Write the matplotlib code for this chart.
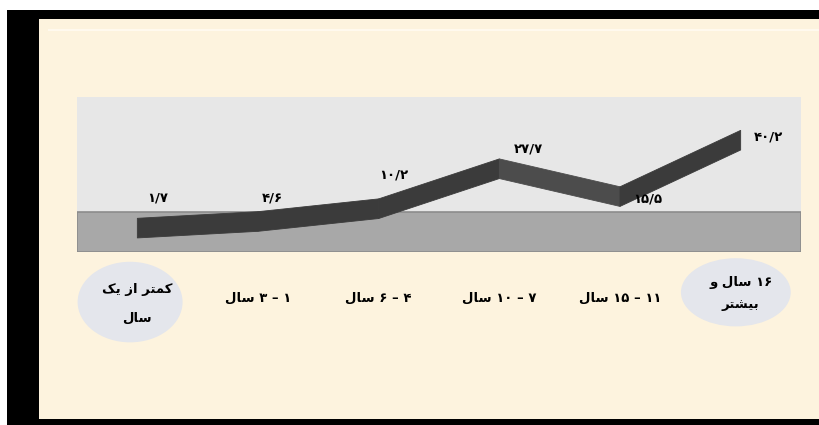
import re
import matplotlib
matplotlib.use("Agg")
import matplotlib.pyplot as plt
from matplotlib.patches import Rectangle, Ellipse, Polygon

# Age groups and share (%)
categories = ["کمتر از یک\nسال", "۱ – ۳ سال", "۴ – ۶ سال", "۷ – ۱۰ سال", "۱۱ – ۱۵ سال", "۱۶ سال و\nبیشتر"]
values = [1.7, 4.6, 10.2, 27.7, 15.5, 40.2]

# Arabic presentation forms: isolated, final, initial, medial
FORMS = {
    "ا": ("\uFE8D", "\uFE8E", None, None),
    "ب": ("\uFE8F", "\uFE90", "\uFE91", "\uFE92"),
    "ت": ("\uFE95", "\uFE96", "\uFE97", "\uFE98"),
    "ر": ("\uFEAD", "\uFEAE", None, None),
    "ز": ("\uFEAF", "\uFEB0", None, None),
    "س": ("\uFEB1", "\uFEB2", "\uFEB3", "\uFEB4"),
    "ش": ("\uFEB5", "\uFEB6", "\uFEB7", "\uFEB8"),
    "ل": ("\uFEDD", "\uFEDE", "\uFEDF", "\uFEE0"),
    "م": ("\uFEE1", "\uFEE2", "\uFEE3", "\uFEE4"),
    "و": ("\uFEED", "\uFEEE", None, None),
    "ک": ("\uFB8E", "\uFB8F", "\uFB90", "\uFB91"),
    "ی": ("\uFBFC", "\uFBFD", "\uFBFE", "\uFBFF"),
}
FA_DIGITS = str.maketrans("0123456789.", "۰۱۲۳۴۵۶۷۸۹/")


def shape(text):
    out = []
    for i, c in enumerate(text):
        if c not in FORMS:
            out.append(c)
            continue
        prev = text[i - 1] if i > 0 else ""
        nxt = text[i + 1] if i + 1 < len(text) else ""
        join_prev = prev in FORMS and FORMS[prev][2] is not None
        join_next = nxt in FORMS and FORMS[c][2] is not None
        iso, fin, ini, med = FORMS[c]
        if join_prev and join_next:
            out.append(med)
        elif join_prev:
            out.append(fin)
        elif join_next:
            out.append(ini)
        else:
            out.append(iso)
    return "".join(out)


def rtl(text):
    # shape, then lay out right-to-left keeping number runs in order
    lines = []
    for line in text.split("\n"):
        rev = shape(line)[::-1]
        rev = re.sub(r"[۰-۹/]+", lambda m: m.group()[::-1], rev)
        lines.append(rev)
    return "\n".join(lines)


plt.rcParams["font.family"] = ["DejaVu Sans"]

fig = plt.figure(figsize=(8.2, 4.25), dpi=100, facecolor="white")

# slide frame
fig.patches.append(Rectangle((7 / 820, 0), 1, 415 / 425, transform=fig.transFigure,
                             facecolor="black", edgecolor="none", zorder=0))
fig.patches.append(Rectangle((39 / 820, 6 / 425), 1, 400 / 425, transform=fig.transFigure,
                             facecolor="#FDF3DE", edgecolor="none", zorder=0))
fig.patches.append(Rectangle((48 / 820, 394 / 425), 1, 1.5 / 425, transform=fig.transFigure,
                             facecolor="#FFF9EE", edgecolor="none", zorder=0))

ax = fig.add_axes([77 / 820, 173 / 425, 724 / 820, 155 / 425])
ax.set_zorder(2)
ax.set_facecolor("#E7E7E7")
ax.set_xlim(-0.5, len(values) - 0.5)
ax.set_ylim(-8.75, 59.1)
for s in ax.spines.values():
    s.set_visible(False)
ax.set_xticks([])
ax.set_yticks([])

# floor of the 3D plot
ax.add_patch(Rectangle((0, 0), 1, 0.258, transform=ax.transAxes,
                       facecolor="#A8A8A8", edgecolor="#8C8C8C", lw=1.2, zorder=1))

# ribbon line
half = 4.3
for i in range(len(values) - 1):
    v0, v1 = values[i], values[i + 1]
    col = "#3B3B3B" if v1 >= v0 else "#4C4C4C"
    ax.add_patch(Polygon([(i, v0 - half), (i + 1, v1 - half), (i + 1, v1 + half), (i, v0 + half)],
                         closed=True, facecolor=col, edgecolor=col, lw=0.6, zorder=3))

# data labels
offsets = [(15, 22), (10, 17), (11, 24), (21, 14), (20, -2), (20, 2)]
for i, v in enumerate(values):
    ax.annotate(str(v).translate(FA_DIGITS), (i, v), xytext=offsets[i], textcoords="offset points",
                ha="center", va="center", fontsize=9.5, fontweight="bold", color="black", zorder=5)

# category labels under the plot
xt = ax.get_xaxis_transform()
ax.add_patch(Ellipse((-0.06, -0.323), 0.87, 0.52, transform=xt, facecolor="#E4E6EC",
                     edgecolor="none", clip_on=False, zorder=1))
ax.add_patch(Ellipse((4.96, -0.26), 0.91, 0.44, transform=xt, facecolor="#E4E6EC",
                     edgecolor="none", clip_on=False, zorder=1))
label_y = [-0.335, -0.295, -0.295, -0.295, -0.295, -0.265]
spacing = [2.5, 1.2, 1.2, 1.2, 1.2, 1.9]
for i, lab in enumerate(categories):
    ax.text(i, label_y[i], rtl(lab), transform=xt, ha="center", va="center",
            fontsize=9.5, fontweight="bold", color="black", linespacing=spacing[i], zorder=5)

fig.savefig("out.png", dpi=100, facecolor="white")
